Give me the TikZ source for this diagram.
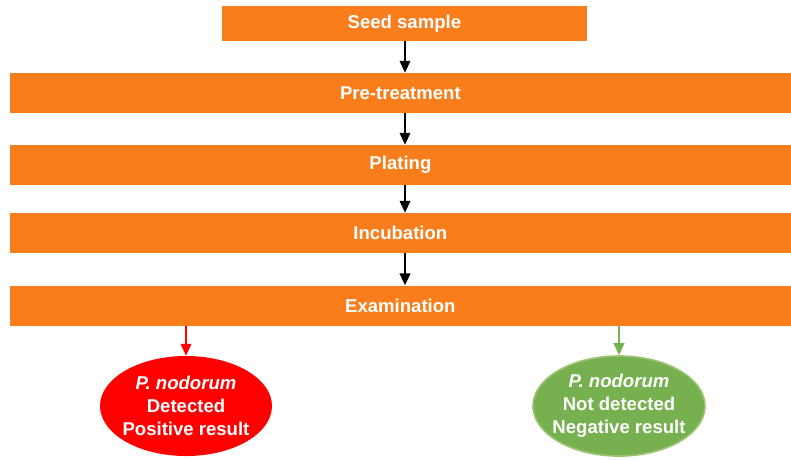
\documentclass[tikz,border=0pt]{standalone}
\usepackage{fontspec}
\setmainfont{Liberation Sans}
\usepackage{xcolor}
\usepackage{tikz}
\usetikzlibrary{arrows.meta,positioning,shapes.geometric}
\definecolor{stepor}{HTML}{F97E1B}
\definecolor{posred}{HTML}{FF0000}
\definecolor{neggreen}{HTML}{77B04F}
\definecolor{negedge}{HTML}{9CC472}

\begin{document}
\begin{tikzpicture}[
    stage/.style={fill=stepor, minimum width=19.525cm, minimum height=1.0cm,
                  inner sep=0pt, text=white, font=\bfseries\fontsize{13.2}{16}\selectfont},
    result/.style={ellipse, minimum width=4.3cm, minimum height=2.5cm,
                   inner xsep=-10pt, inner ysep=-4pt,
                   align=center, text=white, font=\bfseries\fontsize{13.2}{16.3}\selectfont},
    arr/.style={-{Triangle[length=8.5pt,width=7.5pt]}, line width=1.4pt}
  ]
  \useasboundingbox (0,0) rectangle (19.775,-11.475);
  % Process stages
  \node[stage, minimum width=9.125cm, minimum height=0.875cm] (seed) at (10.11,-0.5875) {Seed sample};
  \node[stage] (pre) at (10.01,-2.325) {Pre-treatment};
  \node[stage] (plate) at (10.01,-4.125) {Plating};
  \node[stage] (incub) at (10.01,-5.825) {Incubation};
  \node[stage] (exam) at (10.01,-7.64) {Examination};
  % Outcomes
  \node[result, fill=posred] (pos) at (4.65,-10.15)
    {\textit{P. nodorum}\\Detected\\Positive result};
  \node[result, fill=neggreen, draw=negedge, line width=1.2pt] (neg) at (15.475,-10.15)
    {\textit{P. nodorum}\\Not detected\\Negative result};
  % Arrows between stages
  \draw[arr] (seed.south -| 10.125,0) -- (pre.north -| 10.125,0);
  \draw[arr] (pre.south -| 10.125,0) -- (plate.north -| 10.125,0);
  \draw[arr] (plate.south -| 10.125,0) -- (incub.north -| 10.125,0);
  \draw[arr] (incub.south -| 10.125,0) -- (exam.north -| 10.125,0);
  % Arrows to outcomes
  \draw[arr, posred] (exam.south -| pos.north) -- (pos.north);
  \draw[arr, neggreen] (exam.south -| neg.north) -- (neg.north);
\end{tikzpicture}
\end{document}
